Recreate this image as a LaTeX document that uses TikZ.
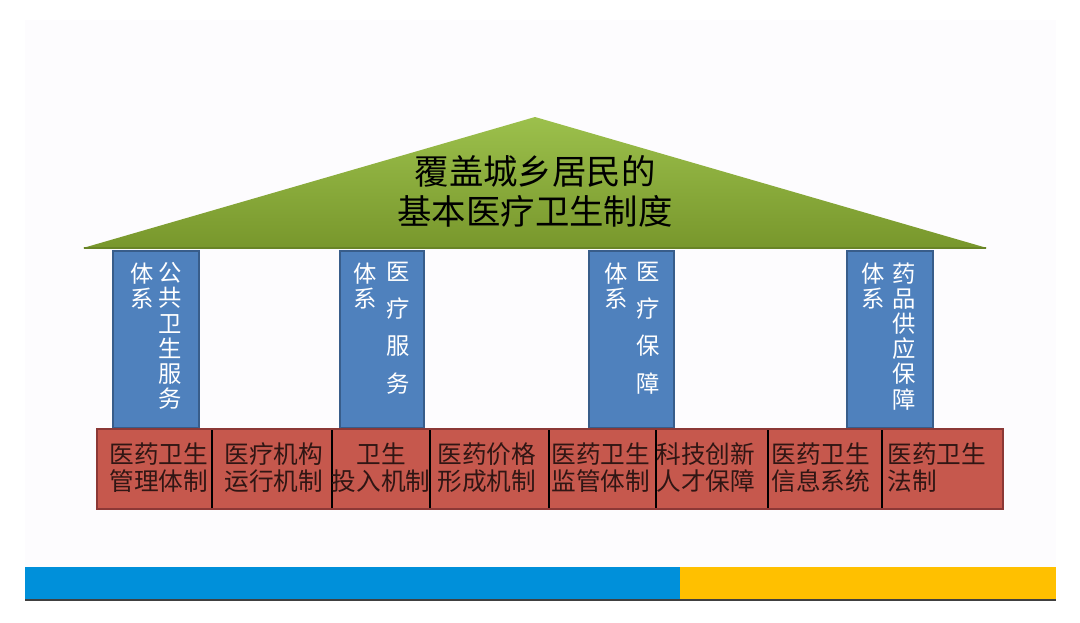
\documentclass[tikz,border=0pt]{standalone}
\usepackage{fontspec}
\newfontfamily\cjk{Noto Sans CJK SC}

\definecolor{slidebg}{RGB}{253,252,254}
\definecolor{rooftop}{RGB}{156,192,76}
\definecolor{roofbottom}{RGB}{120,151,44}
\definecolor{roofedge}{RGB}{104,132,38}
\definecolor{pillarfill}{RGB}{79,129,189}
\definecolor{pillaredge}{RGB}{56,93,138}
\definecolor{basefill}{RGB}{198,88,77}
\definecolor{baseedge}{RGB}{140,56,54}
\definecolor{basetext}{RGB}{48,22,20}
\definecolor{barblue}{RGB}{0,144,218}
\definecolor{baryellow}{RGB}{255,192,0}

\tikzset{every picture/.style={line width=0.75pt}}
\tikzset{
  pillar/.style={draw=pillaredge, fill=pillarfill, line width=1.2},
  basebox/.style={draw=baseedge, fill=basefill, line width=1.2},
  divider/.style={draw=black, line width=2},
  pillartext/.style={anchor=north, inner sep=0pt, align=center, text=white, font=\cjk\fontsize{17.5}{18.9}\selectfont},
  pillarwide/.style={pillartext, font=\cjk\fontsize{17.5}{27.8}\selectfont},
  boxtext/.style={anchor=west, inner sep=0pt, align=left, text=basetext, font=\cjk\fontsize{18.5}{20.3}\selectfont},
}

\begin{document}
\begin{tikzpicture}[x=0.75pt,y=0.75pt,yscale=-1,xscale=1]
\useasboundingbox (0,0) rectangle (1080,622);

%Shape: Rectangle (slide)
\fill [slidebg] (25,20) rectangle (1056,600) ;

%Shape: Triangle (roof)
\shade [top color=rooftop, bottom color=roofbottom] (83,248) -- (535,117) -- (987,248) -- cycle ;
%Straight Lines (roof edge)
\draw [roofedge, line width=1.5] (84,248) -- (986,248) ;

%Shape: Rectangle (pillars)
\draw [pillar] (113,251) rectangle (199,428) ;
\draw [pillar] (340,251) rectangle (424,428) ;
\draw [pillar] (589,251) rectangle (674,428) ;
\draw [pillar] (847,251) rectangle (933,428) ;

%Shape: Rectangle (base)
\draw [basebox] (97,429) rectangle (1003,509) ;
%Straight Lines (dividers)
\draw [divider] (212,430) -- (212,508) ;
\draw [divider] (332,430) -- (332,508) ;
\draw [divider] (430,430) -- (430,508) ;
\draw [divider] (549,430) -- (549,508) ;
\draw [divider] (656,430) -- (656,508) ;
\draw [divider] (768,430) -- (768,508) ;
\draw [divider] (882,430) -- (882,508) ;

%Shape: Rectangle (bottom bar)
\fill [barblue] (25,567) rectangle (680,599) ;
\fill [baryellow] (680,567) rectangle (1056,599) ;
\draw [black!75, line width=1.5] (25,599.5) -- (1056,599.5) ;

% roof text
\node (title) [inner sep=0pt, align=center, font=\cjk\fontsize{25.8}{30}\selectfont] at (535,191) {覆盖城乡居民的\\基本医疗卫生制度};

% pillar texts
\node (p1a) [pillartext] at (170,262) {公\\共\\卫\\生\\服\\务};
\node (p1b) [pillartext] at (142,262) {体\\系};
\node (p2a) [pillarwide] at (398,262) {医\\疗\\服\\务};
\node (p2b) [pillartext] at (365,262) {体\\系};
\node (p3a) [pillarwide] at (648,262) {医\\疗\\保\\障};
\node (p3b) [pillartext] at (616,262) {体\\系};
\node (p4a) [pillartext] at (904,262) {药\\品\\供\\应\\保\\障};
\node (p4b) [pillartext] at (873,262) {体\\系};

% base texts
\node (b1) [boxtext] at (109,468) {医药卫生\\管理体制};
\node (b2) [boxtext] at (224,468) {医疗机构\\运行机制};
\node (b3) [boxtext, anchor=center, align=center] at (381,468) {卫生\\投入机制};
\node (b4) [boxtext] at (437,468) {医药价格\\形成机制};
\node (b5) [boxtext] at (551,468) {医药卫生\\监管体制};
\node (b6) [boxtext] at (656,468) {科技创新\\人才保障};
\node (b7) [boxtext] at (771,468) {医药卫生\\信息系统};
\node (b8) [boxtext] at (887,468) {医药卫生\\法制};
\end{tikzpicture}
\end{document}
